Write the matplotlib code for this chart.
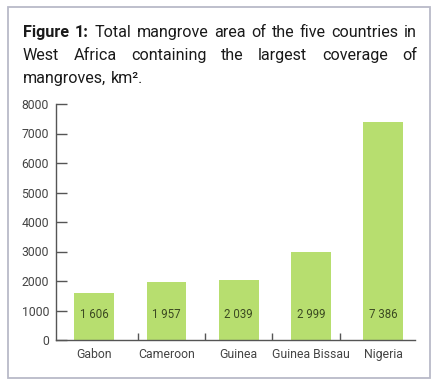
import matplotlib.pyplot as plt
from matplotlib.patches import Rectangle

countries = ["Gabon", "Cameroon", "Guinea", "Guinea Bissau", "Nigeria"]
area_km2 = [1606, 1957, 2039, 2999, 7386]
bar_labels = ["1 606", "1 957", "2 039", "2 999", "7 386"]
yticks = [0, 1000, 2000, 3000, 4000, 5000, 6000, 7000, 8000]

plt.rcParams['font.family'] = ['Roboto', 'DejaVu Sans']

W, H = 440, 384
fig = plt.figure(figsize=(W / 100, H / 100), dpi=100)

# grey frame around the whole figure box
fig.patches.append(Rectangle((8 / W, 1 - 378 / H), 422 / W, 371 / H,
                             transform=fig.transFigure, fill=False,
                             edgecolor="#b9bac8", linewidth=1.3))

ax = fig.add_axes([56 / W, 1 - 340 / H, 359 / W, 236 / H])
x = range(len(countries))
ax.bar(x, area_km2, width=0.55, color="#b7de6f")
for xi, lab in zip(x, bar_labels):
    ax.text(xi, 850, lab, ha="center", va="center", fontsize=8.3, color="#3c4a22")

ax.set_xlim(-0.53, 4.44)
ax.set_ylim(0, 8000)
ax.set_yticks(yticks)
ax.set_yticklabels([str(t) for t in yticks])
ax.set_xticks(list(x))
ax.set_xticklabels(countries)
ax.set_xticks([0.6, 1.53, 2.46, 3.4], minor=True)
ax.tick_params(axis="y", direction="in", length=8, width=1, color="#555555",
               labelsize=8.8, labelcolor="#444444", pad=5)
ax.tick_params(axis="x", which="major", length=0, labelsize=8.8,
               labelcolor="#444444", pad=6)
ax.tick_params(axis="x", which="minor", direction="in", length=5, width=1,
               color="#555555")
for s in ["top", "right"]:
    ax.spines[s].set_visible(False)
for s in ["left", "bottom"]:
    ax.spines[s].set_color("#555555")
    ax.spines[s].set_linewidth(1)

# justified caption
renderer = fig.canvas.get_renderer()
FS = 11.6
def place_line(words, y, left=23, right=417, justify=True):
    texts = []
    for w, bold in words:
        t = fig.text(0, 1 - y / H, w, fontsize=FS, color="#1a1a1a",
                     fontweight="bold" if bold else "normal", va="baseline")
        texts.append(t)
    widths = [t.get_window_extent(renderer).width for t in texts]
    if justify and len(words) > 1:
        gap = (right - left - sum(widths)) / (len(words) - 1)
    else:
        gap = renderer.points_to_pixels(FS) * 0.26
    cx = left
    for t, w in zip(texts, widths):
        t.set_x(cx / W)
        cx += w + gap

line1 = [("Figure", True), ("1:", True)] + [(w, False) for w in
         "Total mangrove area of the five countries in".split()]
line2 = [(w, False) for w in "West Africa containing the largest coverage of".split()]
line3 = [("mangroves,", False), ("km².", False)]
place_line(line1, 37)
place_line(line2, 60)
place_line(line3, 83, justify=False)

fig.savefig("out.png", dpi=100)
